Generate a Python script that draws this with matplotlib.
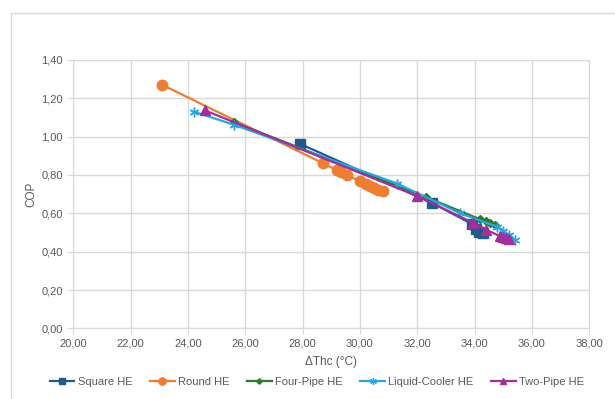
import matplotlib
matplotlib.use("Agg")
import matplotlib.pyplot as plt
from matplotlib.lines import Line2D
from matplotlib.ticker import FuncFormatter

# data
square_x = [27.9, 32.5, 33.9, 34.05, 34.15, 34.3]
square_y = [0.963, 0.655, 0.545, 0.52, 0.505, 0.498]

round_x = [23.1, 28.7, 29.2, 29.35, 29.55, 30.0, 30.2, 30.35, 30.5, 30.65, 30.8]
round_y = [1.27, 0.862, 0.825, 0.815, 0.80, 0.767, 0.755, 0.742, 0.732, 0.722, 0.715]

fourpipe_x = [25.6, 32.3, 34.2, 34.4, 34.55, 34.7]
fourpipe_y = [1.075, 0.685, 0.568, 0.558, 0.548, 0.538]

liquid_x = [24.2, 25.6, 31.3, 33.5, 34.8, 35.0, 35.2, 35.4]
liquid_y = [1.13, 1.062, 0.755, 0.60, 0.53, 0.51, 0.488, 0.462]

twopipe_x = [24.6, 32.0, 33.95, 34.4, 34.9, 35.0, 35.1, 35.2]
twopipe_y = [1.136, 0.69, 0.55, 0.515, 0.48, 0.475, 0.47, 0.465]

series = [
    ("Square HE", square_x, square_y, "#1d5c8a", "s", 7),
    ("Round HE", round_x, round_y, "#ed7d31", "o", 7.5),
    ("Four-Pipe HE", fourpipe_x, fourpipe_y, "#2b7a2e", "D", 4),
    ("Liquid-Cooler HE", liquid_x, liquid_y, "#2aa6df", (6, 2, 0), 7),
    ("Two-Pipe HE", twopipe_x, twopipe_y, "#a0309b", "^", 7),
]

plt.rcParams['font.family'] = ['Liberation Sans', 'DejaVu Sans']

fig = plt.figure(figsize=(6.15, 3.99), dpi=100)
ax = fig.add_axes([0.119, 0.177, 0.839, 0.673])

for name, xs, ys, col, mk, ms in series:
    ax.plot(xs, ys, color=col, lw=1.6, marker=mk, markersize=ms,
            markeredgecolor=col, markerfacecolor=col, markeredgewidth=1.0,
            label=name)

ax.set_xlim(20, 38)
ax.set_ylim(0, 1.4)
ax.set_xticks(range(20, 39, 2))
ax.set_yticks([i * 0.2 for i in range(8)])
comma = FuncFormatter(lambda v, p: f"{v:.2f}".replace(".", ","))
ax.xaxis.set_major_formatter(comma)
ax.yaxis.set_major_formatter(comma)

grid_c = "#d9d9d9"
ax.grid(True, color=grid_c, lw=1.0)
ax.set_axisbelow(True)
for s in ax.spines.values():
    s.set_color(grid_c)
ax.tick_params(axis="both", colors=grid_c, labelcolor="#595959",
               labelsize=8, length=4, direction="out")

ax.set_xlabel("ΔThc (°C)", color="#595959", fontsize=8.5, labelpad=5)
ax.set_ylabel("COP", color="#595959", fontsize=8.5, labelpad=3)

ax.legend(loc="center", bbox_to_anchor=(317 / 615, 1 - 382 / 399),
          bbox_transform=fig.transFigure, ncol=5, frameon=False,
          fontsize=8, labelcolor="#595959", handlelength=2.2,
          handletextpad=0.3, columnspacing=1.6, markerscale=0.7)

# outer chart border (cropped on the right/bottom)
fig.add_artist(Line2D([11 / 615, 11 / 615], [0, 1 - 13 / 399],
                      transform=fig.transFigure, color=grid_c, lw=1))
fig.add_artist(Line2D([11 / 615, 1], [1 - 13 / 399, 1 - 13 / 399],
                      transform=fig.transFigure, color=grid_c, lw=1))

fig.savefig("out.png", dpi=100)
